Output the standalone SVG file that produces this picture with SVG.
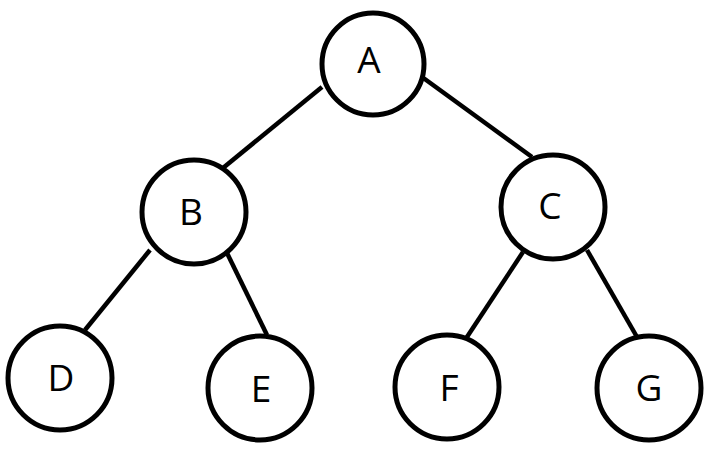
<svg xmlns="http://www.w3.org/2000/svg" width="721" height="463" viewBox="0 0 721 463">
<style>
.node circle{fill:#fff;stroke:#000;stroke-width:5}
.node text{font-family:"Open Sans","Noto Sans",sans-serif;font-size:37px;fill:#000;text-anchor:middle}
#edges line{stroke:#000;stroke-width:4.5;stroke-linecap:butt}
</style>
<rect width="721" height="463" fill="#fff"/>
<g id="edges">
<line x1="322" y1="87" x2="223" y2="168"/>
<line x1="422" y1="77" x2="532" y2="157"/>
<line x1="150" y1="250" x2="85" y2="330"/>
<line x1="227" y1="253" x2="267" y2="335"/>
<line x1="523" y1="252" x2="465" y2="340"/>
<line x1="587" y1="250" x2="637" y2="337"/>
</g>
<g id="A" class="node"><circle cx="373" cy="64" r="51"/><text x="369" y="73">A</text></g>
<g id="B" class="node"><circle cx="194" cy="212" r="52"/><text x="191" y="225">B</text></g>
<g id="C" class="node"><circle cx="553" cy="207" r="52"/><text x="550" y="219">C</text></g>
<g id="D" class="node"><circle cx="60" cy="378" r="52"/><text x="61" y="391">D</text></g>
<g id="E" class="node"><circle cx="260" cy="388" r="52"/><text x="261" y="402">E</text></g>
<g id="F" class="node"><circle cx="447" cy="387" r="52"/><text x="449" y="401">F</text></g>
<g id="G" class="node"><circle cx="649" cy="388" r="52"/><text x="649" y="401">G</text></g>
</svg>
